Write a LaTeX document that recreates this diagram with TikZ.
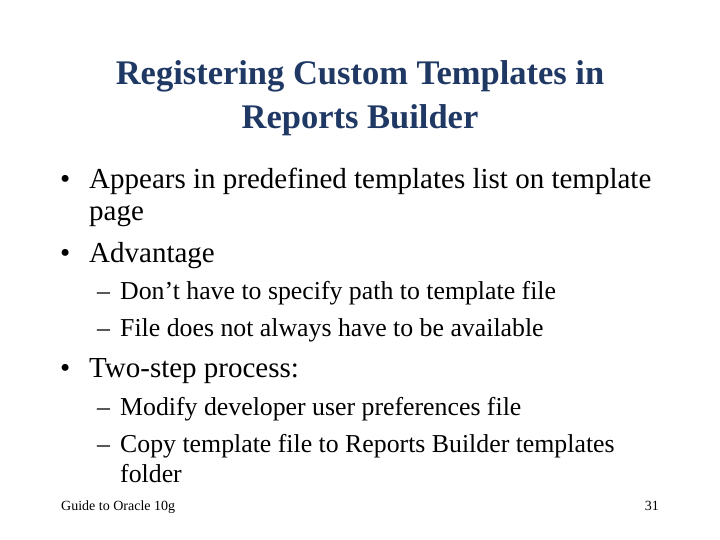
\documentclass[tikz,border=0pt]{standalone}
\usepackage{fontspec}
\setmainfont{Liberation Serif}
\definecolor{titleblue}{RGB}{31,56,100}
\tikzset{
  slidetitle/.style={text=titleblue, font=\fontsize{34.5}{44}\selectfont\bfseries, align=center},
  lvlone/.style={anchor=base west, font=\fontsize{29}{34}\selectfont, inner sep=0pt},
  lvltwo/.style={anchor=base west, font=\fontsize{25.8}{30}\selectfont, inner sep=0pt},
  foot/.style={font=\fontsize{14}{16}\selectfont, inner sep=0pt}
}
\begin{document}
\begin{tikzpicture}[x=1pt,y=-1pt]
  \useasboundingbox (0,0) rectangle (720,540);

  \node[slidetitle] (title) at (360,98) {Registering Custom Templates in\\Reports Builder};

  \node[lvlone] (b1) at (60,189) {\textbullet};
  \node[lvlone] (t1) at (89,189) {Appears in predefined templates list on template};
  \node[lvlone] (t1b) at (89,221) {page};
  \node[lvlone] (b2) at (60,262) {\textbullet};
  \node[lvlone] (t2) at (89,262) {Advantage};
  \node[lvltwo] (d1) at (97,299) {--};
  \node[lvltwo] (s1) at (120,299) {Don’t have to specify path to template file};
  \node[lvltwo] (d2) at (97,336) {--};
  \node[lvltwo] (s2) at (120,336) {File does not always have to be available};
  \node[lvlone] (b3) at (60,377) {\textbullet};
  \node[lvlone] (t3) at (89,377) {Two-step process:};
  \node[lvltwo] (d3) at (97,415) {--};
  \node[lvltwo] (s3) at (120,415) {Modify developer user preferences file};
  \node[lvltwo] (d4) at (97,452) {--};
  \node[lvltwo] (s4) at (120,452) {Copy template file to Reports Builder templates};
  \node[lvltwo] (s4b) at (120,482) {folder};

  \node[foot, anchor=base west] (guide) at (61,510) {Guide to Oracle 10g};
  \node[foot, anchor=base east] (page) at (659,510) {31};
\end{tikzpicture}
\end{document}
